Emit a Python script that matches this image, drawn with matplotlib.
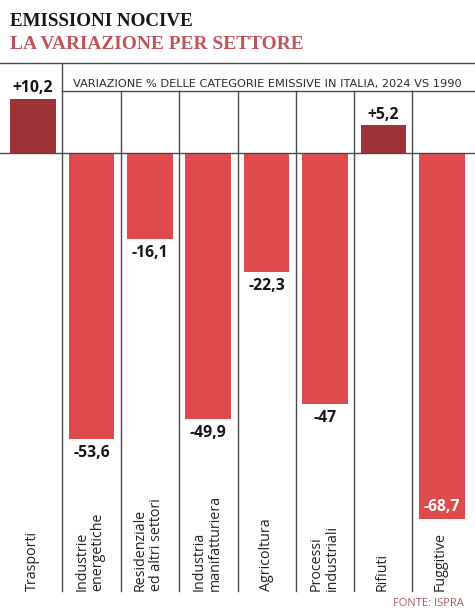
from matplotlib import pyplot as plt
from matplotlib.transforms import Affine2D
import numpy as np

W, H = 475, 610

sectors = ['Trasporti', 'Industrie\nenergetiche', 'Residenziale\ned altri settori',
           'Industria\nmanifatturiera', 'Agricoltura', 'Processi\nindustriali',
           'Rifiuti', 'Fuggitive']
values = [10.2, -53.6, -16.1, -49.9, -22.3, -47, 5.2, -68.7]
value_labels = ['+10,2', '-53,6', '-16,1', '-49,9', '-22,3', '-47', '+5,2', '-68,7']

DARK = '#9e3337'
LIGHT = '#df4a4c'
LINE = '#4a4a4a'

fig = plt.figure(figsize=(W / 100, H / 100), dpi=100)
ax = fig.add_axes([0, 0, 1, 1])

# pixel layout of the page: zero line at y=153, 5.33 px per point, bars 58.4 px apart
px_per_val = 5.33
px_per_bar = 58.4
ax.set_xlim(-33 / px_per_bar, (W - 33) / px_per_bar)
ax.set_ylim(-(H - 153) / px_per_val, 153 / px_per_val)
ax.axis('off')

# top-left pixel coordinates for everything that is not a data mark
page = Affine2D().scale(1, -1).translate(0, H)

X = np.arange(len(values))
colors = [DARK if v > 0 else LIGHT for v in values]
ax.bar(X, values, width=45.5 / px_per_bar, color=colors, linewidth=0, zorder=2)

# rules
ax.plot([0, W], [63.3, 63.3], color=LINE, lw=1, transform=page, zorder=1)
ax.plot([62.3, W], [90.7, 90.7], color=LINE, lw=1, transform=page, zorder=1)
ax.plot([0, W], [153, 153], color=LINE, lw=1, transform=page, zorder=3)
ax.plot([62.3, 62.3], [63.3, 591], color=LINE, lw=1, transform=page, zorder=1)
for x in [120.7, 179, 237.6, 295.8, 354.3, 412.4]:
    ax.plot([x, x], [90.7, 591], color=LINE, lw=1, transform=page, zorder=1)

# value labels
for i, (v, lab) in enumerate(zip(values, value_labels)):
    if v > 0:
        off, va, col = 2, 'bottom', '#151515'
    elif i == len(values) - 1:
        off, va, col = 3, 'bottom', 'white'
    else:
        off, va, col = -4.5, 'top', '#151515'
    ax.annotate(lab, (i, v), xytext=(0, off), textcoords='offset points', ha='center',
                va=va, fontsize=11.3, fontweight='bold', family='Open Sans', color=col, zorder=4)

# sector names, rotated
name_x = [32.5, 90, 148, 207, 266, 324, 382, 440.5]
for x, name in zip(name_x, sectors):
    ax.text(x, 591, name, transform=page, rotation=90, ha='center', va='bottom',
            multialignment='left', fontsize=10.3, family='Open Sans', color='#222222',
            linespacing=1.1, zorder=4)

ax.text(10, 26, 'EMISSIONI NOCIVE', transform=page, fontsize=13.7, fontweight='bold',
        family='Liberation Serif', color='#161616', va='baseline')
ax.text(10, 49, 'LA VARIAZIONE PER SETTORE', transform=page, fontsize=13.95, fontweight='bold',
        family='Liberation Serif', color='#c05458', va='baseline')
ax.text(73, 82.5, 'VARIAZIONE % DELLE CATEGORIE EMISSIVE IN ITALIA, 2024 VS 1990',
        transform=page, fontsize=8.2, family='DejaVu Sans', color='#2a2a2a', va='center_baseline',
        ha='left')
ax.text(464, 603, 'FONTE: ISPRA', transform=page, fontsize=8, family='Open Sans',
        color='#b5565a', ha='right', va='center')

fig.savefig('out.png', dpi=100)
